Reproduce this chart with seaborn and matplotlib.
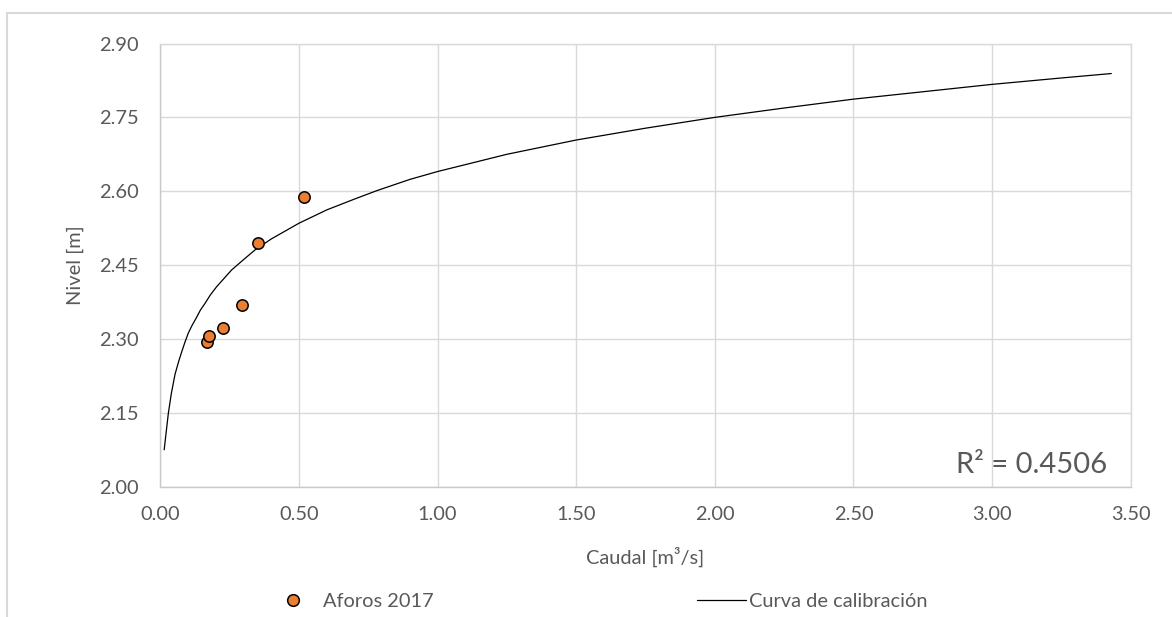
import matplotlib
matplotlib.use("Agg")
import matplotlib.pyplot as plt
from matplotlib.lines import Line2D
from matplotlib.patches import Rectangle
import seaborn as sns

# Field gaugings (discharge vs. stage)
aforos_caudal = [0.168, 0.177, 0.225, 0.296, 0.351, 0.519]
aforos_nivel = [2.294, 2.307, 2.322, 2.368, 2.494, 2.589]

# Rating curve points
curva_caudal = [0.014, 0.020, 0.029, 0.040, 0.053, 0.065, 0.075, 0.088, 0.101,
                0.115, 0.130, 0.145, 0.161, 0.180, 0.203, 0.230, 0.257, 0.300,
                0.342, 0.400, 0.500, 0.600, 0.700, 0.780, 0.900, 1.000, 1.250,
                1.500, 1.750, 2.000, 2.250, 2.500, 2.750, 3.000, 3.250, 3.430]
curva_nivel = [2.075, 2.105, 2.149, 2.190, 2.228, 2.252, 2.270, 2.292, 2.312,
               2.328, 2.343, 2.359, 2.372, 2.389, 2.406, 2.423, 2.440, 2.461,
               2.481, 2.503, 2.535, 2.562, 2.584, 2.601, 2.624, 2.640, 2.675,
               2.704, 2.728, 2.750, 2.769, 2.787, 2.802, 2.817, 2.830, 2.839]

x_ticks = [0.0, 0.5, 1.0, 1.5, 2.0, 2.5, 3.0, 3.5]
y_ticks = [2.00, 2.15, 2.30, 2.45, 2.60, 2.75, 2.90]

r2 = 0.4506
etiqueta_aforos = "Aforos 2017"
etiqueta_curva = "Curva de calibración"

sns.set_theme(style="whitegrid")
plt.rcParams["font.family"] = ["Lato", "DejaVu Sans"]

W, H = 1172, 617
fig = plt.figure(figsize=(W / 100, H / 100), dpi=100)
fig.patch.set_facecolor("white")

left, right, top, bottom = 160.3, 1130.7, 43.5, 486.7
ax = fig.add_axes([left / W, 1 - bottom / H, (right - left) / W, (bottom - top) / H])
ax.set_facecolor("white")

text_color = "#595959"
grid_color = "#D9D9D9"
orange = "#ED7D31"

sns.lineplot(x=curva_caudal, y=curva_nivel, ax=ax, color="black", linewidth=0.9,
             sort=False, estimator=None, legend=False, zorder=2)
sns.scatterplot(x=aforos_caudal, y=aforos_nivel, ax=ax, s=67, color=orange,
                edgecolor="black", linewidth=1.1, legend=False, zorder=3)

ax.set_xlim(x_ticks[0], x_ticks[-1])
ax.set_ylim(y_ticks[0], y_ticks[-1])
ax.set_xticks(x_ticks)
ax.set_yticks(y_ticks)
ax.set_xticklabels([f"{v:.2f}" for v in x_ticks])
ax.set_yticklabels([f"{v:.2f}" for v in y_ticks])

ax.grid(True, color=grid_color, linewidth=1.0)
for side in ["top", "right", "left", "bottom"]:
    ax.spines[side].set_color(grid_color if side in ("top", "right") else "#C9C9C9")
    ax.spines[side].set_linewidth(1.0)

ax.tick_params(axis="both", length=0, labelsize=14.4, labelcolor=text_color)
ax.tick_params(axis="y", pad=15.5)
ax.tick_params(axis="x", pad=14)

ax.set_xlabel("Caudal [m³/s]", fontsize=14.4, color=text_color)
ax.set_ylabel("Nivel [m]", fontsize=14.4, color=text_color)
ax.xaxis.label.set_va("center")
ax.yaxis.label.set_va("center")
ax.xaxis.set_label_coords(0.5, (bottom - 557) / (bottom - top))
ax.yaxis.set_label_coords((75 - left) / (right - left), 0.5)

ax.text(3.414, 2.028, f"R² = {r2:.4f}", ha="right", va="baseline",
        fontsize=21, color=text_color)

# Legend below the plot, two entries laid out separately
fs = 14.4
h_aforos = Line2D([], [], linestyle="none", marker="o", markersize=8.4,
                  markerfacecolor=orange, markeredgecolor="black",
                  markeredgewidth=1.1)
fig.legend([h_aforos], [etiqueta_aforos], loc="center left",
           bbox_to_anchor=(282.7 / W, 1 - 601.5 / H), frameon=False,
           fontsize=fs, handlelength=1.0, handletextpad=1.0,
           borderpad=0, borderaxespad=0, labelcolor=text_color)
h_curva = Line2D([], [], color="black", linewidth=0.9)
fig.legend([h_curva], [etiqueta_curva], loc="center left",
           bbox_to_anchor=(697 / W, 1 - 601.5 / H), frameon=False,
           fontsize=fs, handlelength=2.45, handletextpad=0.15,
           borderpad=0, borderaxespad=0, labelcolor=text_color)

# Chart area border
fig.add_artist(Rectangle((7 / W, -0.1), 1.2, 1 - 13 / H + 0.1,
                         transform=fig.transFigure, fill=False,
                         edgecolor=grid_color, linewidth=1.5))

fig.savefig("out.png", dpi=100, facecolor="white")
